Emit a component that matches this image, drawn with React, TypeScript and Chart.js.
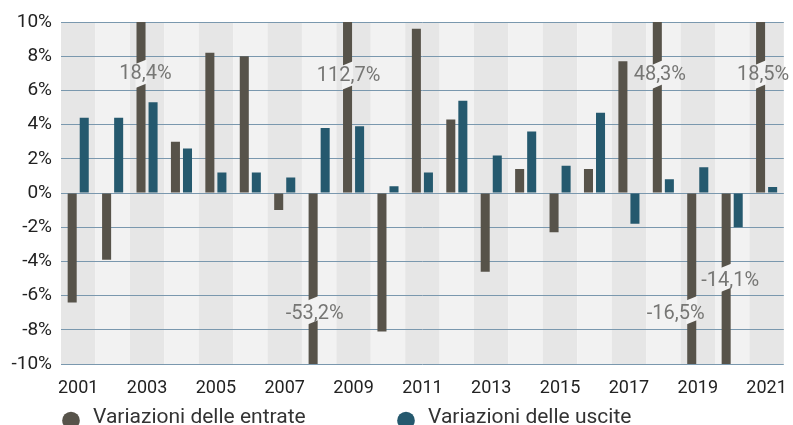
import React, { useEffect, useRef } from "react";
import { Chart, registerables } from "chart.js";

Chart.register(...registerables);

// ---- data ----
const years = [
  "2001", "2002", "2003", "2004", "2005", "2006", "2007", "2008", "2009", "2010",
  "2011", "2012", "2013", "2014", "2015", "2016", "2017", "2018", "2019", "2020", "2021",
];
const entrate = [
  -6.4, -3.9, 18.4, 3.0, 8.2, 8.0, -1.0, -53.2, 112.7, -8.1,
  9.6, 4.3, -4.6, 1.4, -2.3, 1.4, 7.7, 48.3, -16.5, -14.1, 18.5,
];
const uscite = [
  4.4, 4.4, 5.3, 2.6, 1.2, 1.2, 0.9, 3.8, 3.9, 0.4,
  1.2, 5.4, 2.2, 3.6, 1.6, 4.7, -1.8, 0.8, 1.5, -2.0, 0.35,
];
const seriesNames = ["Variazioni delle entrate", "Variazioni delle uscite"];
const yMin = -10;
const yMax = 10;
const yStep = 2;

// label anchors for the out-of-range (broken) bars: year -> [value where label sits, px shift]
const breakLabelAnchor: Record<string, [number, number]> = {
  "2003": [7.0, 4.5],
  "2008": [-7.0, 1.5],
  "2009": [6.9, 1],
  "2018": [6.95, 2.5],
  "2019": [-7.0, -16],
  "2020": [-5.1, 4],
  "2021": [6.95, 2.5],
};

// ---- styles ----
const COL_ENTRATE = "#57534a";
const COL_USCITE = "#25596e";
const BAND_DARK = "#e6e6e6";
const BAND_LIGHT = "#f2f2f2";
const GRID = "#7a98ae";
const FONT = "Roboto, 'Helvetica Neue', Arial, sans-serif";

const formatPct = (v: number) => `${v.toFixed(1).replace(".", ",")}%`;

const bandsPlugin = {
  id: "bands",
  beforeDraw(chart: any) {
    const { ctx, chartArea, scales } = chart;
    const x = scales.x;
    const n = years.length;
    const w = (chartArea.right - chartArea.left) / n;
    ctx.save();
    for (let i = 0; i < n; i++) {
      const c = x.getPixelForValue(i);
      ctx.fillStyle = i % 2 === 0 ? BAND_DARK : BAND_LIGHT;
      ctx.fillRect(c - w / 2, chartArea.top, w, chartArea.bottom - chartArea.top);
    }
    ctx.restore();
  },
};

const breaksPlugin = {
  id: "breaks",
  afterDatasetsDraw(chart: any) {
    const { ctx, scales } = chart;
    const y = scales.y;
    const meta = chart.getDatasetMeta(0);
    ctx.save();
    entrate.forEach((v, i) => {
      if (v <= yMax && v >= yMin) return;
      const anchor = breakLabelAnchor[years[i]];
      if (!anchor) return;
      const bar = meta.data[i] as any;
      const bx = bar.x;
      const bw = bar.width;
      const ly = y.getPixelForValue(anchor[0]);
      const gc = v > 0 ? ly + 0.5 : ly - 2.5;
      const half = 12;
      const slope = 2.3;
      const l = bx - bw / 2 - 1;
      const r = bx + bw / 2 + 1;
      ctx.fillStyle = BAND_LIGHT;
      ctx.beginPath();
      ctx.moveTo(l, gc - half + slope);
      ctx.lineTo(r, gc - half - slope);
      ctx.lineTo(r, gc + half - slope);
      ctx.lineTo(l, gc + half + slope);
      ctx.closePath();
      ctx.fill();
      ctx.fillStyle = "#767674";
      ctx.font = `20px ${FONT}`;
      ctx.textAlign = "center";
      ctx.textBaseline = "middle";
      ctx.fillText(formatPct(v), bx + anchor[1], ly + 1);
    });
    ctx.restore();
  },
};

const legendPlugin = {
  id: "customLegend",
  afterDraw(chart: any) {
    const { ctx } = chart;
    const items = [
      { color: COL_ENTRATE, label: seriesNames[0], x: 71 },
      { color: COL_USCITE, label: seriesNames[1], x: 406 },
    ];
    ctx.save();
    items.forEach((it) => {
      ctx.fillStyle = it.color;
      ctx.beginPath();
      ctx.arc(it.x, 420.5, 8.8, 0, Math.PI * 2);
      ctx.fill();
      ctx.fillStyle = "#333333";
      ctx.font = `21px ${FONT}`;
      ctx.textAlign = "left";
      ctx.textBaseline = "alphabetic";
      ctx.fillText(it.label, it.x + 22, 422.5);
    });
    ctx.restore();
  },
};

export default function App() {
  const ref = useRef<HTMLCanvasElement | null>(null);

  useEffect(() => {
    document.body.style.margin = "0";
    if (!ref.current) return;
    const chart = new Chart(ref.current, {
      type: "bar",
      data: {
        labels: years,
        datasets: [
          {
            label: seriesNames[0],
            data: entrate,
            backgroundColor: COL_ENTRATE,
            categoryPercentage: 0.7,
            barPercentage: 0.75,
          },
          {
            label: seriesNames[1],
            data: uscite,
            backgroundColor: COL_USCITE,
            categoryPercentage: 0.7,
            barPercentage: 0.75,
          },
        ],
      },
      options: {
        responsive: false,
        animation: false,
        layout: { padding: { top: 22, right: 7, left: 0, bottom: 0 } },
        plugins: {
          legend: { display: false },
          tooltip: { enabled: false },
        },
        scales: {
          x: {
            grid: { display: false },
            border: { display: false },
            ticks: {
              autoSkip: false,
              maxRotation: 0,
              padding: 6,
              color: "#222222",
              font: { family: FONT, size: 18 },
              callback: (_v: any, i: number) => (i % 2 === 0 ? years[i] : ""),
            },
            afterFit: (s: any) => {
              s.height = 61;
            },
          },
          y: {
            min: yMin,
            max: yMax,
            grid: { color: GRID, lineWidth: 1, drawTicks: false },
            border: { display: false },
            ticks: {
              stepSize: yStep,
              padding: 9,
              color: "#222222",
              font: { family: FONT, size: 19 },
              callback: (v: any) => `${v}%`,
            },
            afterFit: (s: any) => {
              s.width = 61;
            },
          },
        },
      },
      plugins: [bandsPlugin, breaksPlugin, legendPlugin],
    });
    return () => chart.destroy();
  }, []);

  return <canvas ref={ref} width={793} height={425} style={{ display: "block" }} />;
}
